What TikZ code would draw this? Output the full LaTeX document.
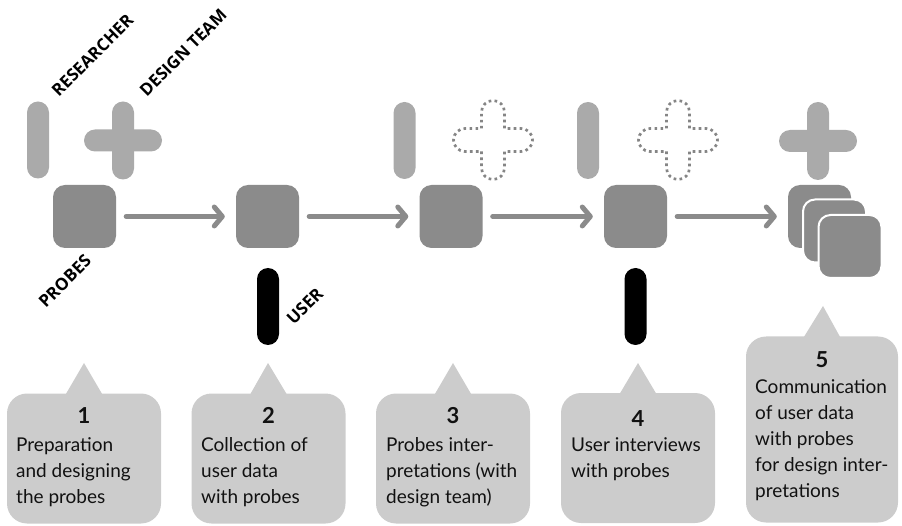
\documentclass[tikz,border=0pt]{standalone}
\usepackage{fontspec}
\setmainfont{Lato}
\newfontfamily\labfont{Open Sans}
\usetikzlibrary{arrows.meta,calc}
\definecolor{sqgray}{HTML}{8B8B8B}
\definecolor{bargray}{HTML}{AAAAAA}
\definecolor{boxgray}{HTML}{CCCCCC}
\definecolor{dotgray}{HTML}{858585}
\definecolor{txt}{HTML}{111111}
\tikzset{
  sq/.style={fill=sqgray,rounded corners=12pt,minimum width=63pt,minimum height=63pt,inner sep=0pt},
  sqw/.style={sq,draw=white,line width=2pt},
  vbar/.style={rounded corners=11pt,minimum width=22pt,minimum height=77pt,inner sep=0pt},
  hbar/.style={rounded corners=11pt,minimum width=78pt,minimum height=22pt,inner sep=0pt},
  lbar/.style={vbar,fill=bargray},
  ubar/.style={vbar,fill=black},
  plush/.style={hbar,fill=bargray},
  dotplus/.style={draw=dotgray,line width=2.7pt,dash pattern=on 2.7pt off 3.3pt},
  arr/.style={draw=sqgray,line width=5pt,line cap=round,-{Straight Barb[length=8pt,width=19pt,round]}},
  callout/.style={fill=boxgray,rounded corners=20pt,minimum width=154pt,inner sep=0pt},
  ptr/.style={fill=boxgray},
  lab/.style={font=\labfont\bfseries\fontsize{17}{17}\selectfont,rotate=45,anchor=south west,inner sep=0pt,text=black},
  num/.style={font=\bfseries\fontsize{22}{22}\selectfont,text=txt,anchor=base},
  body/.style={font=\fontsize{19}{26}\selectfont,text=txt,align=left,anchor=base west,inner sep=0pt}
}
\begin{document}
\begin{tikzpicture}[x=1pt,y=-1pt]
\useasboundingbox (0,0) rectangle (902,526);
% squares
\node[sq] (s1) at (84.5,216.5) {};
\node[sq] (s2) at (267.5,216.5) {};
\node[sq] (s3) at (451,216.5) {};
\node[sq] (s4) at (635.5,216.5) {};
\node[sq] (s5a) at (819.5,216.5) {};
\node[sqw] (s5b) at (834.5,231) {};
\node[sqw] (s5c) at (850,246.5) {};
% arrows
\draw[arr] ([xshift=10pt]s1.east) -- ([xshift=-11pt]s2.west);
\draw[arr] ([xshift=10pt]s2.east) -- ([xshift=-11pt]s3.west);
\draw[arr] ([xshift=10pt]s3.east) -- ([xshift=-11pt]s4.west);
\draw[arr] ([xshift=10pt]s4.east) -- ([xshift=-11pt]s5a.west);
% researcher bars
\node[lbar] (r1) at (38,140) {};
\node[lbar] (r3) at (404.5,140.5) {};
\node[lbar] (r4) at (588,140.5) {};
% solid pluses
\node[lbar,minimum height=78pt] (p1v) at (123,140.5) {};
\node[plush] (p1h) at (123,140.5) {};
\node[lbar,minimum height=78pt] (p5v) at (818,141) {};
\node[plush] (p5h) at (818,141) {};
% dotted pluses
\foreach \cx/\nm in {493/d3,678/d4}{
  \coordinate (\nm) at (\cx,140);
  \draw[dotplus] ($(\nm)+(-11.5,11.5)$) -- ++(0,16.5) arc[start angle=180,end angle=0,radius=11.5]
    -- ++(0,-16.5) -- ++(16.5,0) arc[start angle=90,end angle=-90,radius=11.5]
    -- ++(-16.5,0) -- ++(0,-16.5) arc[start angle=0,end angle=-180,radius=11.5]
    -- ++(0,16.5) -- ++(-16.5,0) arc[start angle=270,end angle=90,radius=11.5] -- cycle;
}
% user bars
\node[ubar] (u2) at (268,306.5) {};
\node[ubar] (u4) at (635.5,306.5) {};
% labels
\node[lab] (lr) at (59,98) {RESEARCHER};
\node[lab] (ld) at (147,98) {DESIGN TEAM};
\node[lab] (lp) at (46,309) {PROBES};
\node[lab] (lu) at (294,326) {USER};
% callouts
\node[callout,minimum height=130pt] (c1) at (84,458.5) {};
\node[callout,minimum height=130pt] (c2) at (268.5,458.5) {};
\node[callout,minimum height=130pt] (c3) at (453,458.5) {};
\node[callout,minimum height=130pt] (c4) at (638,458) {};
\node[callout,minimum width=152pt,minimum height=186pt] (c5) at (822,429.5) {};
\coordinate (t1) at (84,363);
\coordinate (t2) at (268,363);
\coordinate (t3) at (453,363);
\coordinate (t4) at (638,363);
\coordinate (t5) at (823,306);
\foreach \i in {1,...,5}{
  \fill[ptr] ([xshift=-18pt,yshift=-0.5pt]c\i.north) -- (t\i) -- ([xshift=18pt,yshift=-0.5pt]c\i.north) -- cycle;
}
% texts
\node[num] (n1) at (84,423) {1};
\node[num] (n2) at (268.5,423) {2};
\node[num] (n3) at (453,423) {3};
\node[num] (n4) at (638,426) {4};
\node[num] (n5) at (822,368) {5};
\node[body] (b1) at (16,503) {Preparation\\and designing\\the probes};
\node[body] (b2) at (201,503) {Collection of\\user data\\with probes};
\node[body] (b3) at (386,503) {Probes inter-\\pretations (with\\design team)};
\node[body] (b4) at (571,477) {User interviews\\with probes};
\node[body] (b5) at (755,497) {Communication\\of user data\\with probes\\for design inter-\\pretations};
\end{tikzpicture}
\end{document}
